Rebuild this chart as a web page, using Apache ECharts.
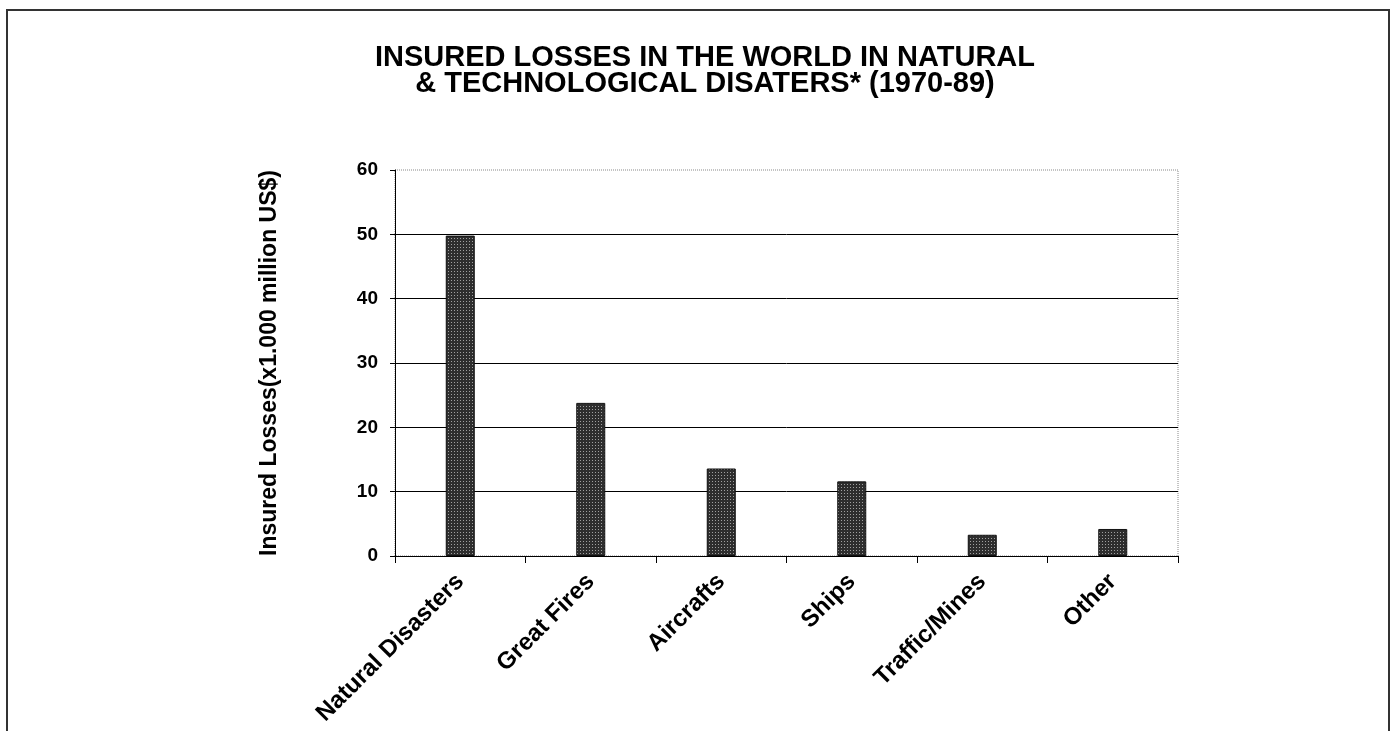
<!DOCTYPE html>
<html>
<head>
<meta charset="utf-8">
<script src="https://cdn.jsdelivr.net/npm/echarts@6/dist/echarts.min.js"></script>
<style>
html,body{margin:0;padding:0;background:#fff;}
#c{width:1394px;height:731px;}
</style>
</head>
<body>
<div id="c"></div>
<script>
const categories = ['Natural Disasters', 'Great Fires', 'Aircrafts', 'Ships', 'Traffic/Mines', 'Other'];
const losses = [49.8, 23.8, 13.6, 11.6, 3.3, 4.2];
const yTicks = [0, 10, 20, 30, 40, 50, 60];

// dotted dark fill pattern
const pat = document.createElement('canvas');
pat.width = 3; pat.height = 3;
const pc = pat.getContext('2d');
pc.fillStyle = '#2e2e2e'; pc.fillRect(0, 0, 3, 3);
pc.fillStyle = '#a0a0a0'; pc.fillRect(1, 1, 1, 1);

const chart = echarts.init(document.getElementById('c'), null, {renderer: 'canvas'});
const FONT = '"Liberation Sans", Arial, Helvetica, sans-serif';
chart.setOption({
  backgroundColor: '#fff',
  animation: false,
  title: {
    text: 'INSURED LOSSES IN THE WORLD IN NATURAL\n& TECHNOLOGICAL DISATERS* (1970-89)',
    left: 700, top: 40, textAlign: 'center',
    textStyle: {fontFamily: FONT, fontWeight: 'bold', fontSize: 29, lineHeight: 26, color: '#000'}
  },
  grid: {left: 395, right: 216, top: 170, bottom: 175, show: true, borderColor: '#888', borderType: 'dotted', borderWidth: 1},
  xAxis: {
    type: 'category', data: categories,
    axisLine: {lineStyle: {color: '#000', width: 1}},
    axisTick: {show: true, alignWithLabel: false, length: 7, lineStyle: {color: '#000'}},
    axisLabel: {rotate: 45, margin: 22, fontFamily: FONT, fontWeight: 'bold', fontSize: 24, color: '#000', interval: 0}
  },
  yAxis: {
    type: 'value', min: 0, max: 60, interval: 10,
    name: 'Insured Losses(x1.000 million US$)', nameLocation: 'middle', nameGap: 114, nameRotate: 90,
    nameTextStyle: {fontFamily: FONT, fontWeight: 'bold', fontSize: 23, color: '#000'},
    axisLine: {show: true, lineStyle: {color: '#000'}},
    axisTick: {show: true, length: 5, lineStyle: {color: '#000'}},
    axisLabel: {margin: 17, fontFamily: FONT, fontWeight: 'bold', fontSize: 19, color: '#000',
      formatter: v => yTicks.includes(v) ? String(v) : ''},
    splitLine: {show: true, lineStyle: {color: ['#000','#000','#000','#000','#000','#000','transparent'], width: 1}}
  },
  series: [{
    type: 'bar', data: losses, barWidth: 29,
    itemStyle: {color: {image: pat, repeat: 'repeat'}, borderColor: '#111', borderWidth: 1}
  }],
  graphic: [{
    type: 'rect', shape: {x: 7, y: 10, width: 1382, height: 740},
    style: {fill: 'none', stroke: '#333', lineWidth: 2}, silent: true
  }]
});
</script>
</body>
</html>
